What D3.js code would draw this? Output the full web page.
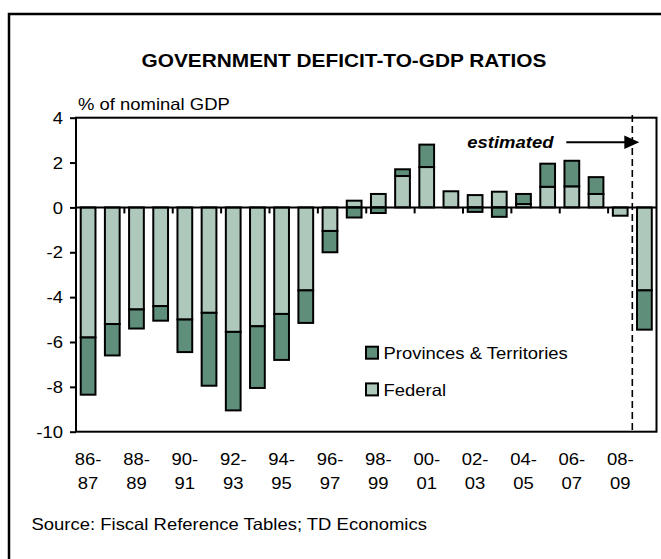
<!DOCTYPE html>
<html>
<head>
<meta charset="utf-8">
<script src="https://cdn.jsdelivr.net/npm/d3@7"></script>
<style>
  html, body { margin: 0; padding: 0; background: #fff; }
  svg { display: block; font-family: "Liberation Sans", Arial, sans-serif; }
</style>
</head>
<body>
<svg id="chart" width="661" height="559"></svg>
<script>
// Fiscal years and deficit/surplus ratios (% of nominal GDP)
const fiscalYears = [
  "86-87", "87-88", "88-89", "89-90", "90-91", "91-92", "92-93", "93-94",
  "94-95", "95-96", "96-97", "97-98", "98-99", "99-00", "00-01", "01-02",
  "02-03", "03-04", "04-05", "05-06", "06-07", "07-08", "08-09", "09-10"
];
const federal = [
  -5.8, -5.2, -4.55, -4.4, -5.0, -4.7, -5.55, -5.3,
  -4.75, -3.7, -1.05, 0.3, 0.6, 1.4, 1.8, 0.72,
  0.55, 0.7, 0.15, 0.92, 0.94, 0.6, -0.37, -3.7
];
const provinces = [
  -2.55, -1.4, -0.85, -0.65, -1.45, -3.25, -3.5, -2.75,
  -2.05, -1.45, -0.95, -0.45, -0.25, 0.3, 1.0, 0.0,
  -0.2, -0.42, 0.45, 1.03, 1.14, 0.75, 0.0, -1.75
];
const yTicks = [4, 2, 0, -2, -4, -6, -8, -10];
const labelledYears = fiscalYears.filter((d, i) => i % 2 === 0);
const firstEstimate = "09-10";

const colors = { federal: "#aec8bb", provinces: "#5f8f7b" };
const legendItems = [
  { key: "provinces", label: "Provinces & Territories" },
  { key: "federal", label: "Federal" }
];

const svg = d3.select("#chart");
const plot = { left: 76, right: 656.5, top: 117.7, bottom: 431.7 };
const STRETCH = 1.12;      // text is set slightly wide
const FONT = 16.5;

const x = d3.scaleBand()
  .domain(fiscalYears)
  .range([plot.left, plot.right])
  .paddingInner(0.39)
  .paddingOuter(0.195);
const y = d3.scaleLinear().domain([-10, 4]).range([plot.bottom, plot.top]);
const boundary = yr => x(yr) - x.step() * x.paddingInner() / 2;

// helper for horizontally widened text
function wideText(parent, px, py, str, opts = {}) {
  const g = parent.append("g")
    .attr("transform", `translate(${px},${py}) scale(${STRETCH},1)`);
  return g.append("text")
    .attr("x", 0).attr("y", 0)
    .attr("text-anchor", opts.anchor || "start")
    .attr("font-size", opts.size || FONT)
    .attr("font-weight", opts.weight || "normal")
    .attr("font-style", opts.style || "normal")
    .attr("fill", "#000")
    .text(str);
}

// outer frame
svg.append("rect")
  .attr("x", 9).attr("y", 14).attr("width", 720).attr("height", 620)
  .attr("fill", "none").attr("stroke", "#000").attr("stroke-width", 2.5);

// title and unit label
wideText(svg, 344, 66.5, "GOVERNMENT DEFICIT-TO-GDP RATIOS",
  { anchor: "middle", size: 18.6, weight: "bold" });
wideText(svg, 78, 110, "% of nominal GDP");

// stacked bars (positive and negative parts stack separately)
const rows = fiscalYears.map((yr, i) => ({ year: yr, federal: federal[i], provinces: provinces[i] }));
const series = d3.stack()
  .keys(["federal", "provinces"])
  .offset(d3.stackOffsetDiverging)(rows);

svg.append("g").selectAll("g")
  .data(series)
  .join("g")
  .attr("fill", s => colors[s.key])
  .selectAll("rect")
  .data(s => s.filter(d => d[1] !== d[0]))
  .join("rect")
  .attr("x", d => x(d.data.year))
  .attr("width", x.bandwidth())
  .attr("y", d => y(Math.max(d[0], d[1])))
  .attr("height", d => Math.abs(y(d[0]) - y(d[1])))
  .attr("stroke", "#000")
  .attr("stroke-width", 2);

// zero line and category ticks every two years
svg.append("line")
  .attr("x1", plot.left).attr("x2", plot.right)
  .attr("y1", y(0)).attr("y2", y(0))
  .attr("stroke", "#000").attr("stroke-width", 2);
svg.append("g").selectAll("line")
  .data(fiscalYears.filter((d, i) => i > 0 && i % 2 === 0))
  .join("line")
  .attr("x1", d => boundary(d)).attr("x2", d => boundary(d))
  .attr("y1", y(0)).attr("y2", y(0) + 6)
  .attr("stroke", "#000").attr("stroke-width", 2);

// plot border
svg.append("rect")
  .attr("x", plot.left).attr("y", plot.top)
  .attr("width", plot.right - plot.left).attr("height", plot.bottom - plot.top)
  .attr("fill", "none").attr("stroke", "#000").attr("stroke-width", 2);

// value axis
const yAxis = svg.append("g")
  .attr("transform", `translate(${plot.left},0)`)
  .call(d3.axisLeft(y).tickValues(yTicks).tickSize(6).tickSizeOuter(0).tickFormat(d => String(d)));
yAxis.select(".domain").remove();
yAxis.selectAll(".tick line").attr("stroke", "#000").attr("stroke-width", 2);
yAxis.selectAll(".tick text")
  .attr("font-size", FONT)
  .attr("font-family", "Liberation Sans, Arial, sans-serif")
  .attr("fill", "#000")
  .attr("x", -13 / STRETCH)
  .attr("dy", "0.34em")
  .attr("transform", `scale(${STRETCH},1)`);

// fiscal-year labels on two lines
const xl = svg.append("g");
labelledYears.forEach(yr => {
  const cx = x(yr) + x.bandwidth() / 2;
  const [a, b] = yr.split("-");
  wideText(xl, cx, 465, a + "-", { anchor: "middle" });
  wideText(xl, cx, 489.3, b, { anchor: "middle" });
});

// estimate marker
const estX = boundary(firstEstimate);
svg.append("line")
  .attr("x1", estX).attr("x2", estX)
  .attr("y1", 115).attr("y2", 434)
  .attr("stroke", "#000").attr("stroke-width", 1.6)
  .attr("stroke-dasharray", "7,4");
svg.append("line")
  .attr("x1", estX - 66).attr("x2", estX - 6)
  .attr("y1", 142.3).attr("y2", 142.3)
  .attr("stroke", "#000").attr("stroke-width", 2);
svg.append("path")
  .attr("d", `M${estX - 8},135.6 L${estX + 7},142.3 L${estX - 8},149 Z`)
  .attr("fill", "#000");
wideText(svg, 553.5, 148, "estimated", { anchor: "end", weight: "bold", style: "italic" });

// legend
const legend = svg.append("g");
legendItems.forEach((item, i) => {
  const ly = 346.7 + i * 36.7;
  legend.append("rect")
    .attr("x", 366).attr("y", ly).attr("width", 12).attr("height", 12)
    .attr("fill", colors[item.key]).attr("stroke", "#000").attr("stroke-width", 2);
  wideText(legend, 383.5, ly + 12.6, item.label);
});

// source note
wideText(svg, 31.5, 530, "Source: Fiscal Reference Tables; TD Economics");
</script>
</body>
</html>
